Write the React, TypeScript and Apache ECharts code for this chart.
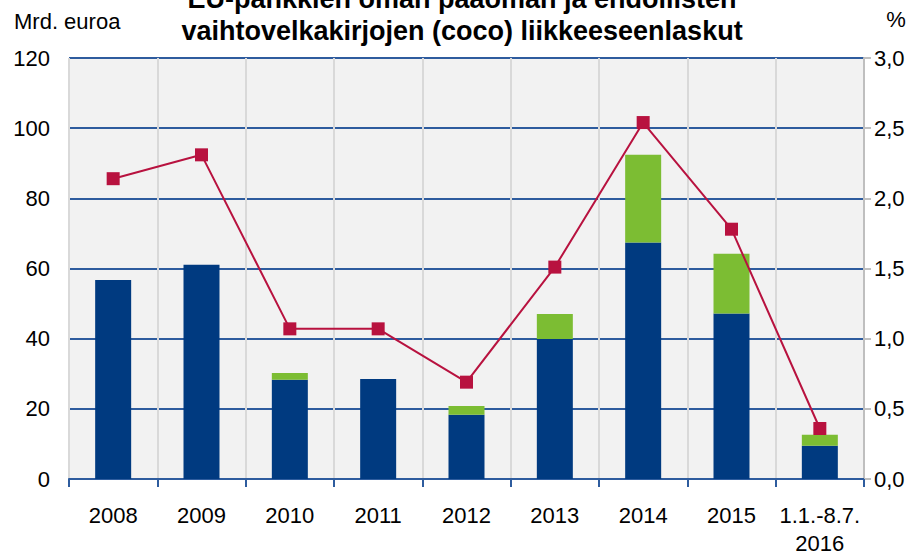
import React, { useEffect, useRef } from "react";
import * as echarts from "echarts";

const categories = ["2008", "2009", "2010", "2011", "2012", "2013", "2014", "2015", "1.1.-8.7.\n2016"];
const equityValues = [56.7, 61.1, 28.3, 28.5, 18.3, 39.9, 67.4, 47.2, 9.5];
const cocoValues = [0, 0, 1.9, 0, 2.5, 7.1, 25.0, 17.0, 3.1];
const shareValues = [2.14, 2.31, 1.07, 1.07, 0.69, 1.51, 2.54, 1.78, 0.36];
const titleLines = ["EU-pankkien oman pääoman ja ehdollisten", "vaihtovelkakirjojen (coco) liikkeeseenlaskut"];
const leftUnit = "Mrd. euroa";
const rightUnit = "%";

const FONT = "'Liberation Sans Narrow', 'Arial Narrow', 'Liberation Sans', Arial, sans-serif";

export default function App() {
  const ref = useRef<HTMLDivElement>(null);
  useEffect(() => {
    if (!ref.current) return;
    const chart = echarts.init(ref.current, undefined, { renderer: "svg" });
    chart.setOption({
      animation: false,
      backgroundColor: "#ffffff",
      grid: {
        left: 69,
        right: 52,
        top: 58,
        bottom: 74,
        show: true,
        backgroundColor: "#f2f2f2",
        borderWidth: 0,
        containLabel: false,
      },
      graphic: [
        {
          type: "text",
          x: 462,
          y: -1,
          style: {
            text: titleLines[0],
            font: `bold 27px ${FONT}`,
            fill: "#000",
            textAlign: "center",
            textVerticalAlign: "middle",
          },
        },
        {
          type: "text",
          x: 462,
          y: 31,
          style: {
            text: titleLines[1],
            font: `bold 27px ${FONT}`,
            fill: "#000",
            textAlign: "center",
            textVerticalAlign: "middle",
          },
        },
        {
          type: "text",
          x: 14,
          y: 21,
          style: {
            text: leftUnit,
            font: `22px ${FONT}`,
            fill: "#000",
            textAlign: "left",
            textVerticalAlign: "middle",
          },
        },
        {
          type: "text",
          x: 896,
          y: 19,
          style: {
            text: rightUnit,
            font: `22px ${FONT}`,
            fill: "#000",
            textAlign: "center",
            textVerticalAlign: "middle",
          },
        },
      ],
      xAxis: {
        type: "category",
        data: categories,
        boundaryGap: true,
        axisLine: { show: true, lineStyle: { color: "#2e5c9e", width: 2 } },
        axisTick: { show: true, length: 8, lineStyle: { color: "#2e5c9e", width: 2 } },
        axisLabel: {
          color: "#000",
          fontFamily: FONT,
          fontSize: 22,
          margin: 22,
          lineHeight: 28,
          interval: 0,
        },
        splitLine: { show: true, lineStyle: { color: "#d9d9d9", width: 2 } },
      },
      yAxis: [
        {
          type: "value",
          min: 0,
          max: 120,
          interval: 20,
          axisLine: { show: false },
          axisTick: { show: false },
          axisLabel: {
            color: "#000",
            fontFamily: FONT,
            fontSize: 22,
            margin: 19,
          },
          splitLine: { show: true, lineStyle: { color: "#2e5c9e", width: 2 } },
        },
        {
          type: "value",
          min: 0,
          max: 3,
          interval: 0.5,
          position: "right",
          axisLine: { show: true, lineStyle: { color: "#bfbfbf", width: 2 } },
          axisTick: { show: true, length: 7, lineStyle: { color: "#bfbfbf", width: 2 } },
          axisLabel: {
            color: "#000",
            fontFamily: FONT,
            fontSize: 22,
            margin: 10,
            formatter: (v: number) => v.toFixed(1).replace(".", ","),
          },
          splitLine: { show: false },
        },
      ],
      series: [
        {
          type: "bar",
          stack: "issues",
          data: equityValues,
          barWidth: 36,
          itemStyle: { color: "#003a80" },
          yAxisIndex: 0,
        },
        {
          type: "bar",
          stack: "issues",
          data: cocoValues,
          barWidth: 36,
          itemStyle: { color: "#7cbd33" },
          yAxisIndex: 0,
        },
        {
          type: "line",
          data: shareValues,
          yAxisIndex: 1,
          symbol: "rect",
          symbolSize: 13,
          lineStyle: { color: "#b8123f", width: 2 },
          itemStyle: { color: "#b8123f" },
          z: 5,
        },
      ],
    });
    return () => chart.dispose();
  }, []);
  return (
    <div
      ref={ref}
      style={{ position: "fixed", left: 0, top: 0, width: 916, height: 557 }}
    />
  );
}
